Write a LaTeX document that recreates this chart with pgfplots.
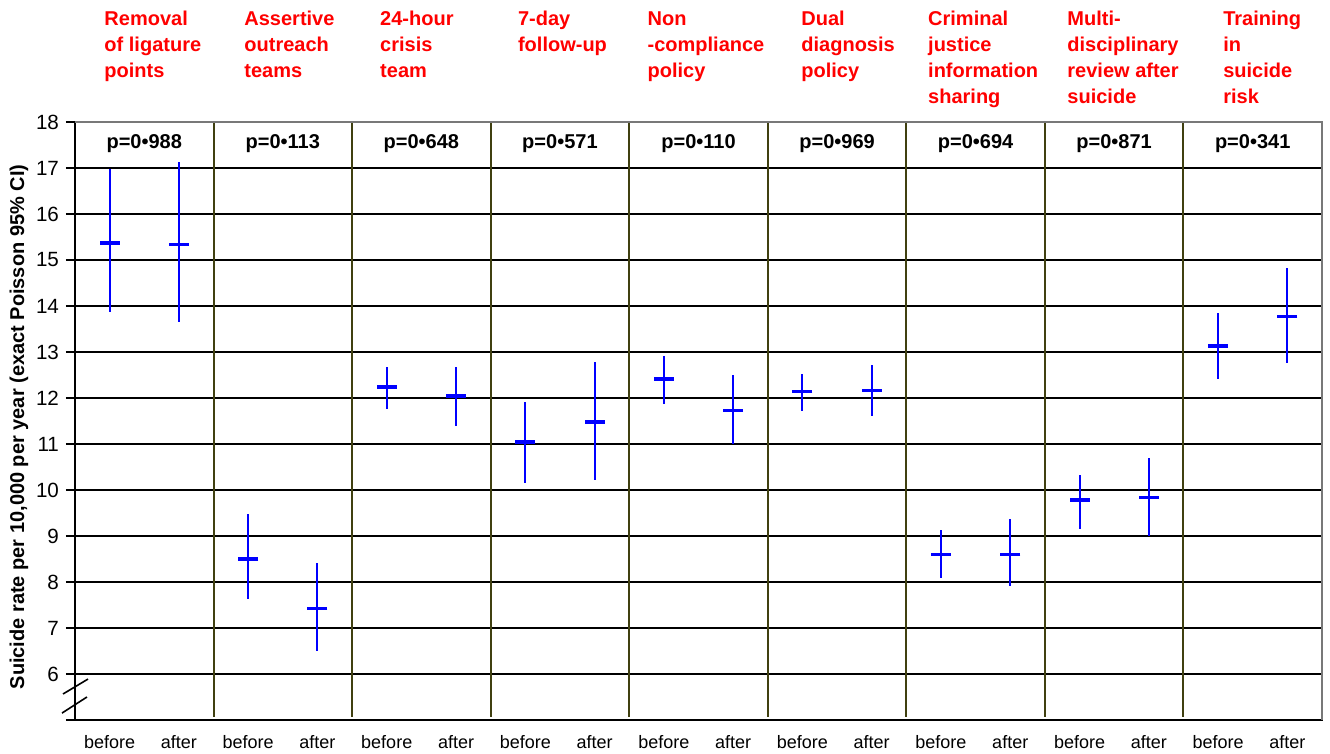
\documentclass[border=0pt]{standalone}
\usepackage{fontspec}
\setmainfont{Liberation Sans}
\usepackage{pgfplots}
\pgfplotsset{compat=1.18}
\usepackage{pgfplotstable}

\definecolor{barblue}{RGB}{0,0,255}
\definecolor{sepolive}{RGB}{64,64,16}
\definecolor{titlered}{RGB}{255,0,0}
\definecolor{framegray}{RGB}{120,120,120}

% suicide rate per 10,000 per year: mean with exact Poisson 95% CI
\pgfplotstableread{
x    m     lo    hi
0.5  15.37 13.86 16.97
1.5  15.34 13.65 17.13
2.5  8.50  7.62  9.47
3.5  7.43  6.50  8.42
4.5  12.24 11.76 12.68
5.5  12.04 11.39 12.68
6.5  11.04 10.16 11.91
7.5  11.48 10.22 12.78
8.5  12.41 11.86 12.92
9.5  11.73 10.99 12.49
10.5 12.14 11.72 12.53
11.5 12.16 11.61 12.71
12.5 8.60  8.08  9.12
13.5 8.60  7.92  9.36
14.5 9.78  9.16  10.32
15.5 9.84  8.99  10.69
16.5 13.13 12.41 13.85
17.5 13.77 12.75 14.83
}\rates

\begin{document}
\begin{tikzpicture}
\begin{axis}[
  scale only axis,
  width=623.5pt, height=299pt,
  xmin=0, xmax=18, ymin=5, ymax=18,
  clip=false,
  axis line style={black, line width=0.8pt},
  xtick={0.5,1.5,...,17.5},
  xticklabels={before,after,before,after,before,after,before,after,before,after,before,after,before,after,before,after,before,after},
  xtick style={draw=none},
  xtick pos=bottom,
  xticklabel style={font=\fontsize{9}{10}\selectfont, yshift=0.5pt},
  ytick={5,...,18},
  yticklabels={,6,7,8,9,10,11,12,13,14,15,16,17,18},
  ytick pos=left,
  tick align=outside,
  major tick length=4.5pt,
  ytick style={black, line width=0.6pt},
  yticklabel style={font=\fontsize{10.3}{11}\selectfont},
  /pgf/number format/assume math mode=true,
  ymajorgrids,
  grid style={black, line width=0.8pt},
  ylabel={Suicide rate per 10,000 per year (exact Poisson 95\% CI)},
  every axis y label/.style={at={(axis description cs:-0.0449,0.49)}, rotate=90, anchor=center, font=\bfseries\fontsize{10}{12}\selectfont},
]

% separators between the interventions
\pgfplotsinvokeforeach{2,4,6,8,10,12,14,16}{
  \draw[sepolive, line width=1pt] (axis cs:#1,18) -- (axis cs:#1,5.07);
}

% frame on top and right
\draw[framegray, line width=1pt] (rel axis cs:0,1) -- (rel axis cs:1,1) -- (rel axis cs:1,0);

% axis break marks
\draw[black, line width=0.8pt] (axis cs:-0.173,5.565) -- (axis cs:0.188,5.89);
\draw[black, line width=0.8pt] (axis cs:-0.188,5.15) -- (axis cs:0.173,5.50);

\addplot[barblue, only marks, mark=-, mark size=5pt,
  mark options={line width=1.7pt},
  error bars/.cd, y dir=both, y explicit, error mark=none,
  error bar style={line width=1pt, barblue}]
  table[x=x, y=m,
    y error plus expr=\thisrow{hi}-\thisrow{m},
    y error minus expr=\thisrow{m}-\thisrow{lo}] {\rates};

% p-values
\tikzset{pval/.style={font=\bfseries\fontsize{10}{12}\selectfont, anchor=center}}
\node[pval] at (axis cs:1,17.54) {p=0•988};
\node[pval] at (axis cs:3,17.54) {p=0•113};
\node[pval] at (axis cs:5,17.54) {p=0•648};
\node[pval] at (axis cs:7,17.54) {p=0•571};
\node[pval] at (axis cs:9,17.54) {p=0•110};
\node[pval] at (axis cs:11,17.54) {p=0•969};
\node[pval] at (axis cs:13,17.54) {p=0•694};
\node[pval] at (axis cs:15,17.54) {p=0•871};
\node[pval] at (axis cs:17,17.54) {p=0•341};

% intervention names
\tikzset{intv/.style={anchor=north west, inner sep=0pt, align=left, text=titlered,
  font=\bfseries\fontsize{10}{13}\selectfont, yshift=55.5pt}}
\node[intv] at (axis cs:0.42,18) {Removal\\of ligature\\points};
\node[intv] at (axis cs:2.44,18) {Assertive\\outreach\\teams};
\node[intv] at (axis cs:4.40,18) {24-hour\\crisis\\team};
\node[intv] at (axis cs:6.39,18) {7-day\\follow-up};
\node[intv] at (axis cs:8.26,18) {Non\\-compliance\\policy};
\node[intv] at (axis cs:10.48,18) {Dual\\diagnosis\\policy};
\node[intv] at (axis cs:12.31,18) {Criminal\\justice\\information\\sharing};
\node[intv] at (axis cs:14.32,18) {Multi-\\disciplinary\\review after\\suicide};
\node[intv] at (axis cs:16.57,18) {Training\\in\\suicide\\risk};
\end{axis}
\pgfresetboundingbox
\useasboundingbox (-37.5pt,-17pt) rectangle (627.5pt,360pt);
\end{tikzpicture}
\end{document}
